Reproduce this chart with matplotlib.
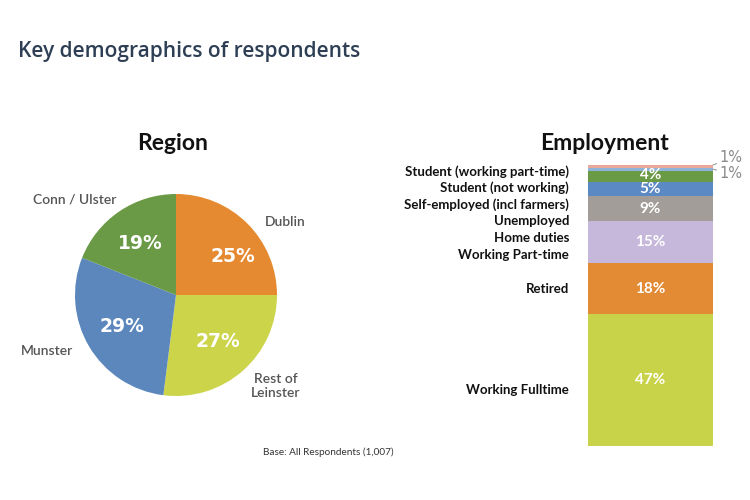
import matplotlib.pyplot as plt

# region pie
regions = ['Dublin', 'Rest of\nLeinster', 'Munster', 'Conn / Ulster']
region_pct = [25, 27, 29, 19]
region_colors = ['#e58a30', '#ccd44a', '#5b87bd', '#6b9a47']

# employment stacked bar (bottom to top)
emp_labels = ['Working Fulltime', 'Retired', 'Working Part-time', 'Home duties',
              'Unemployed', 'Self-employed (incl farmers)', 'Student (not working)',
              'Student (working part-time)']
emp_pct = [47, 18, 15, 9, 5, 4, 1, 1]
emp_colors = ['#c9d34a', '#e38a35', '#c6b8db', '#a29d98', '#5b89c3',
              '#6b9a45', '#8fb4da', '#e9a899']

# where the category names sit on the bar scale (as in the original slide)
emp_label_y = [20, 55.8, 67.8, 73.9, 79.9, 85.9, 91.9, 97.6]

fig = plt.figure(figsize=(7.5, 5), dpi=100)
fig.patch.set_facecolor('white')

fig.text(18 / 750, 1 - 52 / 500, 'Key demographics of respondents', fontsize=15,
         fontweight='semibold', color='#2e3f55', family='Open Sans', va='center',
         ha='left')

# --- pie ---
ax1 = fig.add_axes([75 / 750, 1 - 396 / 500, 202 / 750, 202 / 500])
wedges, _, autotexts = ax1.pie(region_pct, colors=region_colors, startangle=90,
                               counterclock=False, autopct='%d%%', pctdistance=0.62,
                               textprops=dict(color='white', fontsize=13.5,
                                              fontweight='bold', family='DejaVu Sans'))
ax1.set_xlim(-1, 1)
ax1.set_ylim(-1, 1)
ax1.set_aspect('equal')
autotexts[0].set_position((0.56, 0.38))
label_pos = [(1.08, 0.72), (0.99, -0.90), (-1.28, -0.55), (-1.0, 0.95)]
for name, (lx, ly) in zip(regions, label_pos):
    ax1.text(lx, ly, name, ha='center', va='center', fontsize=10, color='#555555',
             family='Lato', fontweight='semibold', clip_on=False, linespacing=1.2)
fig.text(173 / 750, 1 - 143 / 500, 'Region', fontsize=16.5, fontweight='bold',
         ha='center', va='center', family='Lato', color='#111111')

# --- stacked bar ---
ax2 = fig.add_axes([588 / 750, 1 - 446 / 500, 125 / 750, 281 / 500])
bottom = 0
for i, (v, c) in enumerate(zip(emp_pct, emp_colors)):
    ax2.bar(0, v, width=1, bottom=bottom, color=c, align='edge')
    mid = bottom + v / 2
    if v >= 4:
        ax2.text(0.5, mid + (0.6 if v == 4 else 0), f'{v}%', ha='center', va='center',
                 color='white', fontsize=11, fontweight='bold', family='Lato')
    bottom += v
ax2.set_xlim(0, 1)
ax2.set_ylim(0, 100)
ax2.axis('off')

# small 1% segments: leader lines
tops = [sum(emp_pct[:i + 1]) for i in range(len(emp_pct))]
small_ann = [(tops[-1], 102.5), (tops[-2] - 0.5, 97.0)]
for (yv, ty) in small_ann:
    ax2.annotate('1%', xy=(1.0, yv), xytext=(1.05, ty), ha='left', va='center',
                 fontsize=10.5, color='#8a8a8a', annotation_clip=False,
                 arrowprops=dict(arrowstyle='-', color='#9a9a9a', lw=0.8,
                                 shrinkA=0, shrinkB=0))

for name, ly in zip(emp_labels, emp_label_y):
    ax2.text(-0.152, ly, name, ha='right', va='center', fontsize=9.5,
             fontweight='bold', family='Lato', color='#111111', clip_on=False)

fig.text(604 / 750, 1 - 143 / 500, 'Employment', fontsize=16.5, fontweight='bold',
         ha='center', va='center', family='Lato', color='#111111')

fig.text(328 / 750, 1 - 452 / 500, 'Base: All Respondents (1,007)', fontsize=7.2,
         ha='center', va='center', family='Lato', color='#333333')

fig.savefig('out.png', dpi=100, facecolor='white')
